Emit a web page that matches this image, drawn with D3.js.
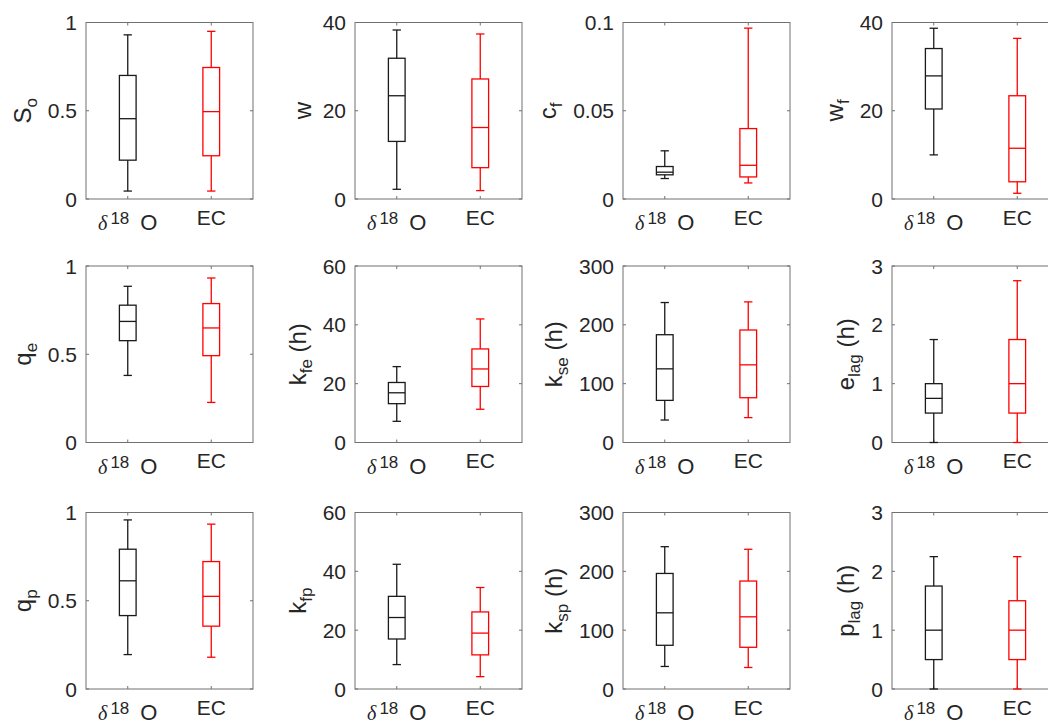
<!DOCTYPE html>
<html><head><meta charset="utf-8">
<script src="https://cdn.jsdelivr.net/npm/d3@7"></script>
<style>body{margin:0;background:#fff} svg{display:block}</style>
</head><body><svg id="fig" width="1048" height="724"></svg>
<script>
// Groups compared in every panel
const groups = ["δ18O", "EC"];
const groupColors = ["#1a1a1a", "#ff0000"];

// Five-number summaries per group: lower whisker, Q1, median, Q3, upper whisker
const So   = [[0.045, 0.22, 0.455, 0.70, 0.93],   [0.045, 0.245, 0.495, 0.745, 0.95]];
const w    = [[2.2, 13.05, 23.4, 31.9, 38.3],     [1.9, 7.1, 16.2, 27.2, 37.4]];
const cf   = [[0.0116, 0.0137, 0.0152, 0.0184, 0.0273], [0.0091, 0.0125, 0.0191, 0.0399, 0.0968]];
const wf   = [[10.0, 20.4, 27.9, 34.1, 38.7],     [1.3, 3.9, 11.5, 23.4, 36.4]];
const qe   = [[0.38, 0.577, 0.686, 0.778, 0.885], [0.227, 0.492, 0.649, 0.787, 0.932]];
const kfe  = [[7.2, 13.2, 16.9, 20.4, 25.8],      [11.3, 19.05, 25.0, 31.8, 42.0]];
const kse  = [[38.2, 71.6, 125.2, 183.2, 237.9],  [42.3, 76.1, 132, 191.2, 239]];
const elag = [[0, 0.5, 0.75, 1.0, 1.75],          [0, 0.5, 1.0, 1.75, 2.75]];
const qp   = [[0.195, 0.416, 0.613, 0.792, 0.958],[0.18, 0.356, 0.525, 0.722, 0.934]];
const kfp  = [[8.3, 17.0, 24.3, 31.5, 42.4],      [4.2, 11.6, 19.0, 26.2, 34.5]];
const ksp  = [[38.3, 74.3, 129.5, 196.4, 241.9],  [36.6, 70.9, 122.7, 183.5, 237.5]];
const plag = [[0, 0.5, 1.0, 1.75, 2.25],          [0, 0.5, 1.0, 1.5, 2.25]];

// Y tick values
const ticksUnit  = [0, 0.5, 1];
const ticks40    = [0, 20, 40];
const ticksCf    = [0, 0.05, 0.1];
const ticks60    = [0, 20, 40, 60];
const ticks300   = [0, 100, 200, 300];
const ticks3     = [0, 1, 2, 3];

// Axis labels: [symbol, subscript, suffix]
const labels = [
  ["S", "o", ""], ["w", "", ""], ["c", "f", ""], ["w", "f", ""],
  ["q", "e", ""], ["k", "fe", " (h)"], ["k", "se", " (h)"], ["e", "lag", " (h)"],
  ["q", "p", ""], ["k", "fp", ""], ["k", "sp", " (h)"], ["p", "lag", " (h)"]
];
const panelStats = [So, w, cf, wf, qe, kfe, kse, elag, qp, kfp, ksp, plag];
const panelTicks = [ticksUnit, ticks40, ticksCf, ticks40,
                    ticksUnit, ticks60, ticks300, ticks3,
                    ticksUnit, ticks60, ticks300, ticks3];

const svg = d3.select("#fig");
const FONT = "'Liberation Sans', Arial, Helvetica, sans-serif";
const TXT = "#262626";
const AX = "#707070";

const colLeft = [86, 355, 623, 892];
const rowTop = [22.5, 266, 512.5];
const pw = 167, ph = 176.5;
const tickLen = 3;

panelStats.forEach((stats, i) => {
  const r = Math.floor(i / 4), c = i % 4;
  const ticks = panelTicks[i];
  const g = svg.append("g").attr("transform", `translate(${colLeft[c]},${rowTop[r]})`);

  const x = d3.scaleLinear().domain([0.5, 2.5]).range([0, pw]);
  const y = d3.scaleLinear().domain([ticks[0], ticks[ticks.length - 1]]).range([ph, 0]);

  // frame
  g.append("rect").attr("x", 0).attr("y", 0).attr("width", pw).attr("height", ph)
    .attr("fill", "none").attr("stroke", AX).attr("stroke-width", 1);

  // y ticks, both sides, pointing inward
  ticks.forEach(t => {
    const yy = y(t);
    g.append("line").attr("x1", 0).attr("x2", tickLen).attr("y1", yy).attr("y2", yy)
      .attr("stroke", AX);
    g.append("line").attr("x1", pw - tickLen).attr("x2", pw).attr("y1", yy).attr("y2", yy)
      .attr("stroke", AX);
  });
  const yLab = g.append("g");
  ticks.forEach(t => {
    yLab.append("text").attr("x", -9).attr("y", y(t)).attr("dy", "0.36em")
      .attr("text-anchor", "end").attr("font-family", FONT).attr("font-size", 21)
      .attr("fill", TXT).text(String(t));
  });

  // x ticks, top and bottom
  [1, 2].forEach(k => {
    const xx = x(k);
    g.append("line").attr("x1", xx).attr("x2", xx).attr("y1", ph).attr("y2", ph - tickLen).attr("stroke", AX);
    g.append("line").attr("x1", xx).attr("x2", xx).attr("y1", 0).attr("y2", tickLen).attr("stroke", AX);
  });

  // x tick labels
  const t1 = g.append("text").attr("x", x(1)).attr("y", ph + 31)
    .attr("text-anchor", "middle").attr("font-family", FONT).attr("font-size", 22).attr("fill", TXT);
  t1.append("tspan").attr("font-family", "'Liberation Serif', 'DejaVu Serif', serif")
    .attr("font-style", "italic").attr("font-size", 20).text("δ");
  t1.append("tspan").attr("font-size", 17).attr("dx", 3).attr("dy", -6).text("18");
  t1.append("tspan").attr("dx", 11).attr("dy", 6).text("O");
  g.append("text").attr("x", x(2)).attr("y", ph + 25.5)
    .attr("text-anchor", "middle").attr("font-family", FONT).attr("font-size", 21)
    .attr("fill", TXT).text(groups[1]);

  // box plots
  stats.forEach((s, gi) => {
    const [lo, q1, med, q3, hi] = s;
    const col = groupColors[gi];
    const cx = x(gi + 1);
    const bw = x(0.7) - x(0.5);   // box width = 0.4 units
    const cw = x(0.6) - x(0.5);   // cap width = 0.2 units
    const bg = g.append("g").attr("stroke", col).attr("stroke-width", 1.3).attr("fill", "none");
    bg.append("line").attr("x1", cx).attr("x2", cx).attr("y1", y(hi)).attr("y2", y(q3));
    bg.append("line").attr("x1", cx).attr("x2", cx).attr("y1", y(q1)).attr("y2", y(lo));
    bg.append("line").attr("x1", cx - cw / 2).attr("x2", cx + cw / 2).attr("y1", y(hi)).attr("y2", y(hi));
    bg.append("line").attr("x1", cx - cw / 2).attr("x2", cx + cw / 2).attr("y1", y(lo)).attr("y2", y(lo));
    bg.append("rect").attr("x", cx - bw / 2).attr("y", y(q3)).attr("width", bw).attr("height", y(q1) - y(q3));
    bg.append("line").attr("x1", cx - bw / 2).attr("x2", cx + bw / 2).attr("y1", y(med)).attr("y2", y(med));
  });

  // y axis label, rotated, placed left of the tick labels
  const tickLeft = yLab.node().getBBox().x;
  const [main, sub, suffix] = labels[i];
  const lab = g.append("text").attr("font-family", FONT).attr("font-size", 24).attr("fill", TXT);
  lab.append("tspan").text(main);
  if (sub) lab.append("tspan").attr("font-size", 17).attr("dy", 6).text(sub);
  if (suffix) lab.append("tspan").attr("dy", sub ? -6 : 0).text(suffix);
  const bb = lab.node().getBBox();
  const tx = tickLeft - 7 - (bb.y + bb.height);
  const ty = ph / 2 + (bb.x + bb.width / 2);
  lab.attr("transform", `translate(${tx},${ty}) rotate(-90)`);
});
</script>
</body></html>
